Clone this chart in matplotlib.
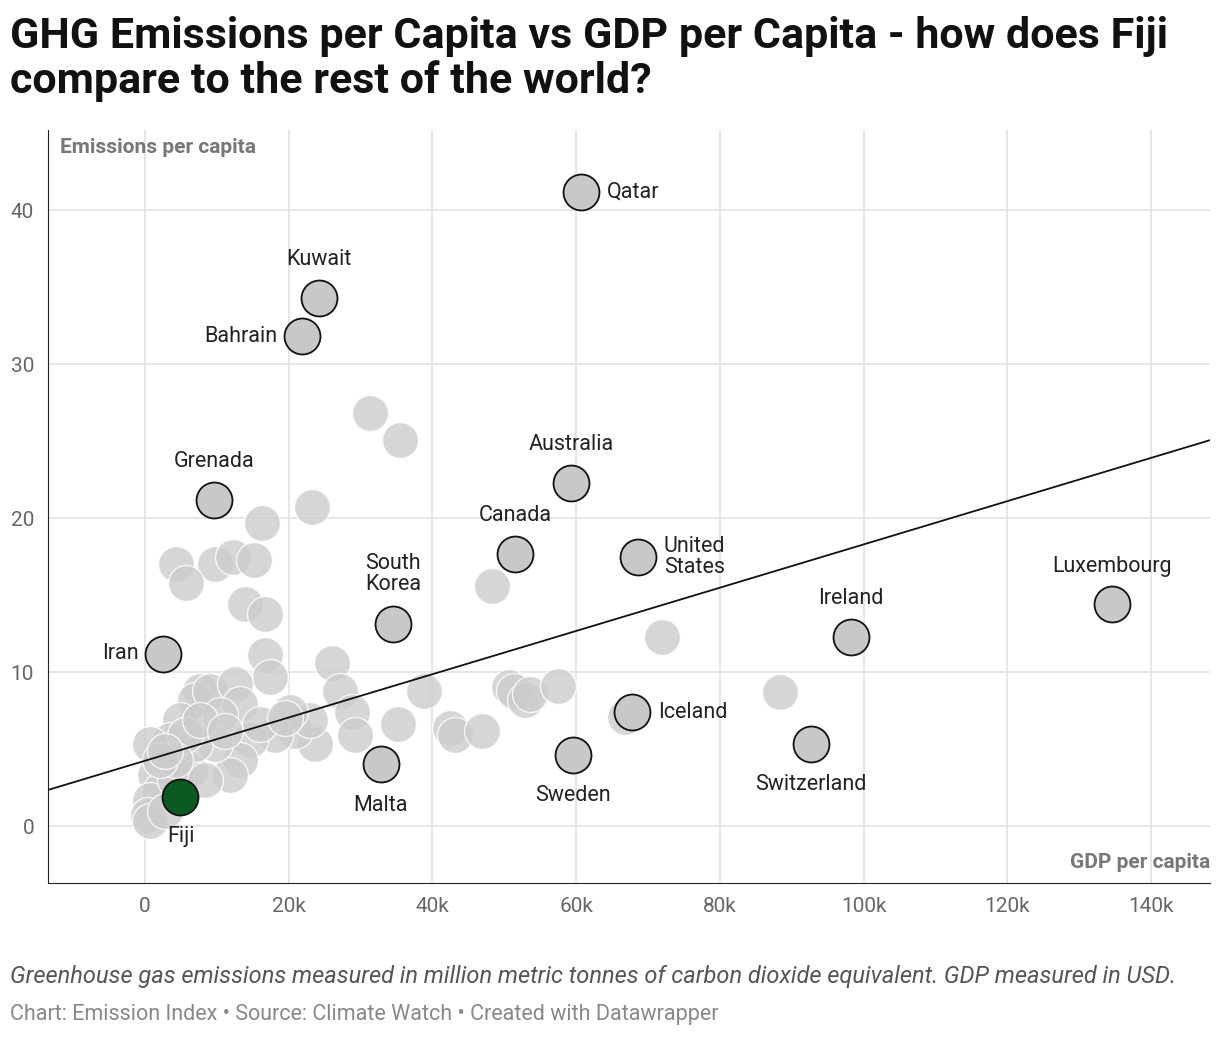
import numpy as np
import matplotlib.pyplot as plt

plt.rcParams['font.family'] = ['Roboto', 'DejaVu Sans']

# highlighted countries: GDP per capita (k USD), emissions per capita
names = ["Qatar", "Kuwait", "Bahrain", "Grenada", "Australia", "Canada", "United\nStates",
         "South\nKorea", "Iran", "Ireland", "Luxembourg", "Iceland", "Switzerland",
         "Sweden", "Malta"]
hx = [60.7, 24.2, 21.8, 9.6, 59.3, 51.5, 68.6, 34.5, 2.5, 98.2, 134.6, 67.8, 92.7, 59.6, 32.8]
hy = [41.2, 34.3, 31.8, 21.2, 22.3, 17.7, 17.5, 13.1, 11.2, 12.3, 14.4, 7.4, 5.3, 4.6, 4.0]
fiji = (4.9, 1.9)

# other countries
gx = [31.3, 35.5, 23.2, 16.3, 4.3, 9.7, 12.2, 15.2, 5.7, 13.9, 16.7, 16.7, 17.4, 26.0, 27.1,
      28.8, 29.2, 35.2, 38.8, 42.4, 43.1, 46.9, 48.3, 50.7, 51.4, 52.9, 53.6, 57.5, 66.8, 71.9,
      88.4, 23.7, 20.9, 23.0, 20.2, 18.1, 14.6, 13.2, 11.8, 7.7, 7.0, 9.0, 12.5, 13.2, 10.4,
      4.9, 3.5, 0.7, 1.4, 2.1, 0.7, 0.4, 0.7, 2.8, 4.2, 6.3, 8.3, 9.7, 7.0, 5.6, 7.7, 11.1,
      16.0, 19.5, 4.2, 2.1, 2.8]
gy = [26.8, 25.1, 20.7, 19.7, 17.0, 17.0, 17.5, 17.3, 15.8, 14.4, 13.8, 11.1, 9.7, 10.6, 8.8,
      7.4, 5.9, 6.6, 8.8, 6.4, 5.9, 6.2, 15.6, 9.0, 8.8, 8.2, 8.6, 9.1, 7.1, 12.3,
      8.7, 5.3, 6.2, 6.9, 7.4, 5.9, 5.6, 4.3, 3.3, 8.8, 8.2, 8.8, 9.2, 7.9, 7.2,
      6.9, 5.6, 5.3, 3.3, 2.3, 1.7, 0.7, 0.3, 1.0, 3.0, 3.6, 3.0, 5.3, 5.3, 5.9, 6.9, 6.2,
      6.6, 7.0, 4.3, 4.3, 4.9]

# trend line
slope, intercept = 0.1405, 4.24

# label offsets in pixels (dx, dy, ha)
offs = [(26, 0, 'left'), (0, 38, 'center'), (-24, 0, 'right'), (0, 38, 'center'),
        (0, 38, 'center'), (0, 38, 'center'), (26, 0, 'left'), (0, 50, 'center'),
        (-24, 0, 'right'), (0, 38, 'center'), (0, 38, 'center'), (26, 0, 'left'),
        (0, -40, 'center'), (0, -40, 'center'), (0, -41, 'center')]

fig = plt.figure(figsize=(12.2, 10.38), dpi=100)
ax = fig.add_axes([0.0393, 0.1493, 0.9525, 0.7254])
ax.set_xlim(-13.5, 148.2)
ax.set_ylim(-3.7, 45.2)

ax.scatter(gx, gy, s=670, color='#cccccc', alpha=0.8, edgecolors='white', linewidths=1, zorder=2)
xl = np.array([-13.5, 148.2])
ax.plot(xl, slope * xl + intercept, color='#111111', lw=1.3, zorder=3)
ax.scatter(hx, hy, s=670, color='#c8c8c8', edgecolors='#111111', linewidths=1.3, zorder=4)
ax.scatter([fiji[0]], [fiji[1]], s=670, color='#0b5a22', edgecolors='#111111', linewidths=1.3, zorder=5)

for n, x, y, (dx, dy, ha) in zip(names, hx, hy, offs):
    ax.annotate(n, (x, y), xytext=(dx, dy), textcoords='offset pixels', ha=ha, va='center',
                fontsize=15.5, color='#222222', linespacing=1.0, zorder=6)
ax.annotate("Fiji", fiji, xytext=(1, -40), textcoords='offset pixels', ha='center', va='center',
            fontsize=15.5, color='#222222', zorder=6)

ax.set_xticks(range(0, 141, 20))
ax.set_xticklabels(["0"] + [f"{v}k" for v in range(20, 141, 20)])
ax.set_yticks(range(0, 41, 10))
ax.tick_params(length=0, labelsize=15, labelcolor='#666666', pad=10)
ax.grid(True, color='#e2e2e2', lw=1.2, zorder=0)
ax.set_axisbelow(True)
for s in ['top', 'right']:
    ax.spines[s].set_visible(False)
for s in ['left', 'bottom']:
    ax.spines[s].set_color('#222222')

ax.text(0.01, 0.99, "Emissions per capita", transform=ax.transAxes, fontsize=15,
        fontweight='bold', color='#777777', va='top', ha='left')
ax.text(1.0, 0.015, "GDP per capita", transform=ax.transAxes, fontsize=15,
        fontweight='bold', color='#777777', va='bottom', ha='right')

fig.text(0.008, 0.985, "GHG Emissions per Capita vs GDP per Capita - how does Fiji\ncompare to the rest of the world?",
         fontsize=31, fontweight='bold', va='top', ha='left', color='#111111', linespacing=1.1)
fig.text(0.008, 0.059, "Greenhouse gas emissions measured in million metric tonnes of carbon dioxide equivalent. GDP measured in USD.",
         fontsize=17, style='italic', color='#555555', va='center')
fig.text(0.008, 0.023, "Chart: Emission Index • Source: Climate Watch • Created with Datawrapper",
         fontsize=15.5, color='#888888', va='center')

fig.savefig("out.png", dpi=100)
